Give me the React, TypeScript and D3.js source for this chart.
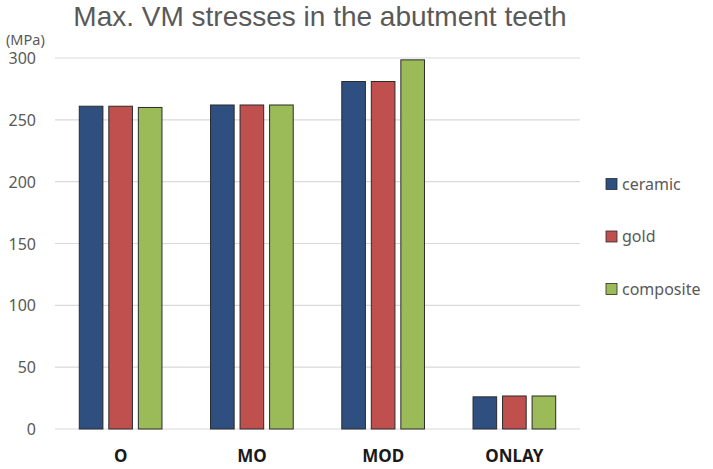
import React from "react";
import * as d3 from "d3";

const categories = ["O", "MO", "MOD", "ONLAY"];
const seriesNames = ["ceramic", "gold", "composite"];
const ceramic = [261, 262, 281, 26];
const gold = [261, 262, 281, 26.7];
const composite = [260, 262, 298.5, 26.7];
const yTicks = [0, 50, 100, 150, 200, 250, 300];
const colors = ["#2E4F7F", "#C0504D", "#9BBB59"];

const W = 713, H = 469;

export default function App() {
  const series = [ceramic, gold, composite];
  const x = d3.scaleBand().domain(categories).range([55, 580]).paddingInner(0.37).paddingOuter(0.185);
  const x1 = d3.scaleBand().domain(seriesNames).range([0, x.bandwidth()]).paddingInner(0.2);
  const y = d3.scaleLinear().domain([0, 300]).range([429, 58]);
  const font = "'Liberation Sans', Arial, sans-serif";
  const tickFont = "'Noto Sans', 'Open Sans', sans-serif";
  return (
    <svg width={W} height={H} style={{ position: "absolute", left: 0, top: 0, background: "#fff" }}>
      <text x={320} y={26} textAnchor="middle" fontFamily={font} fontSize={28} fill="#595959">
        Max. VM stresses in the abutment teeth
      </text>
      {yTicks.map((t) => (
        <g key={t}>
          <line x1={55} x2={580} y1={y(t)} y2={y(t)} stroke="#D9D9D9" strokeWidth={1.2} />
          <text x={36} y={y(t)} dy="0.38em" textAnchor="end" fontFamily={tickFont} fontSize={16} fill="#595959">
            {t}
          </text>
        </g>
      ))}
      <text x={6} y={45} fontFamily={tickFont} fontSize={14.5} fill="#595959">(MPa)</text>
      {categories.map((c, i) => (
        <g key={c} transform={`translate(${x(c)},0)`}>
          {series.map((s, j) => (
            <rect
              key={j}
              x={x1(seriesNames[j])}
              y={y(s[i])}
              width={x1.bandwidth()}
              height={y(0) - y(s[i])}
              fill={colors[j]}
              stroke="#2b2b2b"
              strokeWidth={1}
            />
          ))}
          <text x={x.bandwidth() / 2} y={462} textAnchor="middle" fontFamily={tickFont} fontWeight="bold" fontSize={17} fill="#1a1a1a">
            {c}
          </text>
        </g>
      ))}
      {seriesNames.map((n, j) => (
        <g key={n} transform={`translate(606,${184 + j * 52.5})`}>
          <rect x={0} y={-5.5} width={11} height={11} fill={colors[j]} stroke="#2b2b2b" strokeWidth={0.8} />
          <text x={16} y={0} dy="0.35em" fontFamily={tickFont} fontSize={16} fill="#595959">{n}</text>
        </g>
      ))}
    </svg>
  );
}
